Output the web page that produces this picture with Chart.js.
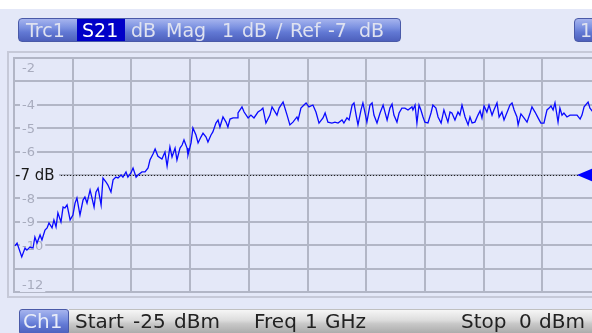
<!DOCTYPE html>
<html>
<head>
<meta charset="utf-8">
<script src="https://cdn.jsdelivr.net/npm/chart.js@4"></script>
<style>
  html, body { margin: 0; padding: 0; width: 592px; height: 333px; overflow: hidden; background: #e4e8f8; }
  #wrap { position: absolute; left: 0; top: 0; width: 610px; height: 333px; }
  canvas { position: absolute; left: 0; top: 0; }
  .bar { position: absolute; box-sizing: border-box; }
  .blue { background: linear-gradient(#a6b4ee, #7a90e0 40%, #6279d4 60%, #4d60bc); border: 1px solid #4a5aa8; border-radius: 4px; }
  .silver { background: linear-gradient(#f6f6f6, #dcdcdc 45%, #c8c8c8 60%, #acacac); border-top: 1px solid #c0c0c0; }
  .w { position: absolute; font-family: "DejaVu Sans", sans-serif; white-space: nowrap; }
  .hd { top: 19px; height: 22px; line-height: 22px; font-size: 19px; color: #dfe2f0; }
  .ft { top: 309px; height: 24px; line-height: 24px; font-size: 20px; color: #222222; }
</style>
</head>
<body>
<div id="wrap">
  <canvas id="vna" width="610" height="333"></canvas>

  <div class="bar blue" style="left:18px;top:18px;width:383px;height:24px;"></div>
  <div class="bar" style="left:77px;top:19px;width:48px;height:22px;background:#0000c8;"></div>
  <span class="w hd" style="left:26px;">Trc1</span>
  <span class="w hd" style="left:82px;color:#ffffff;">S21</span>
  <span class="w hd" style="left:131px;">dB</span>
  <span class="w hd" style="left:166px;">Mag</span>
  <span class="w hd" style="left:222px;">1</span>
  <span class="w hd" style="left:242px;">dB</span>
  <span class="w hd" style="left:276px;">/</span>
  <span class="w hd" style="left:290px;">Ref</span>
  <span class="w hd" style="left:328px;">-7</span>
  <span class="w hd" style="left:359px;">dB</span>

  <div class="bar blue" style="left:574px;top:18px;width:40px;height:24px;"></div>
  <span class="w hd" style="left:580px;">1</span>

  <div class="bar silver" style="left:69px;top:309px;width:541px;height:24px;"></div>
  <div class="bar blue" style="left:19px;top:309px;width:50px;height:26px;border-radius:3px;"></div>
  <span class="w ft" style="left:23px;color:#e8ecf8;">Ch1</span>
  <span class="w ft" style="left:75px;">Start</span>
  <span class="w ft" style="left:133px;">-25</span>
  <span class="w ft" style="left:174px;">dBm</span>
  <span class="w ft" style="left:254px;">Freq</span>
  <span class="w ft" style="left:305px;">1</span>
  <span class="w ft" style="left:325px;">GHz</span>
  <span class="w ft" style="left:461px;">Stop</span>
  <span class="w ft" style="left:519px;">0</span>
  <span class="w ft" style="left:539px;">dBm</span>
</div>

<script>
// power sweep, -25 dBm .. 0 dBm at 1 GHz
const sweepStart = -25;
const sweepStop = 0;

// S21 trace: stimulus power (dBm) and magnitude (dB)
const power = [
  -24.96, -24.87, -24.67, -24.53, -24.45, -24.32, -24.19, -24.11, -24.02, -23.89,
  -23.81, -23.68, -23.59, -23.51, -23.38, -23.30, -23.21, -23.13, -23.00, -22.91,
  -22.83, -22.74, -22.61, -22.49, -22.40, -22.32, -22.19, -22.06, -21.98, -21.89,
  -21.76, -21.68, -21.59, -21.51, -21.42, -21.29, -21.21, -21.08, -21.00, -20.87,
  -20.78, -20.66, -20.57, -20.44, -20.36, -20.23, -20.15, -20.02, -19.93, -19.80,
  -19.72, -19.55, -19.42, -19.29, -19.21, -19.08, -18.99, -18.87, -18.70, -18.57,
  -18.48, -18.36, -18.27, -18.14, -18.06, -17.93, -17.84, -17.76, -17.63, -17.59,
  -17.46, -17.38, -17.25, -17.16, -17.04, -16.95, -16.82, -16.74, -16.61, -16.53,
  -16.40, -16.31, -16.23, -16.10, -15.97, -15.89, -15.80, -15.67, -15.50, -15.46,
  -15.29, -15.20, -15.03, -14.91, -14.78, -14.61, -14.48, -14.40, -14.27, -14.10,
  -14.01, -13.80, -13.71, -13.54, -13.37, -13.25, -13.12, -12.95, -12.90, -12.78,
  -12.65, -12.56, -12.44, -12.27, -12.14, -12.01, -11.84, -11.75, -11.63, -11.46,
  -11.33, -11.20, -11.03, -10.95, -10.82, -10.73, -10.60, -10.52, -10.43, -10.35,
  -10.22, -10.14, -10.05, -9.97, -9.84, -9.75, -9.67, -9.54, -9.41, -9.28,
  -9.20, -9.11, -8.99, -8.90, -8.82, -8.69, -8.60, -8.48, -8.35, -8.22,
  -8.05, -8.01, -7.92, -7.84, -7.75, -7.67, -7.58, -7.50, -7.37, -7.24,
  -7.16, -7.03, -6.94, -6.81, -6.69, -6.52, -6.43, -6.35, -6.22, -6.09,
  -6.01, -5.92, -5.79, -5.66, -5.58, -5.49, -5.37, -5.24, -5.15, -5.07,
  -4.98, -4.86, -4.77, -4.64, -4.56, -4.43, -4.34, -4.22, -4.13, -3.96,
  -3.88, -3.79, -3.70, -3.58, -3.53, -3.41, -3.28, -3.15, -3.02, -2.94,
  -2.81, -2.68, -2.56, -2.43, -2.30, -2.21, -2.13, -2.04, -1.96, -1.83,
  -1.75, -1.66, -1.58, -1.45, -1.32, -1.19, -1.02, -0.89, -0.81, -0.72,
  -0.55, -0.47, -0.34, -0.21, 0.00
];
const magnitude = [
  -10.03, -9.91, -10.50, -10.12, -10.21, -10.08, -10.12, -9.65, -9.91, -9.56,
  -9.78, -9.35, -9.26, -9.05, -9.26, -8.92, -9.22, -8.62, -9.01, -8.37,
  -8.41, -8.28, -8.92, -8.71, -8.20, -7.98, -8.71, -8.07, -7.94, -8.20,
  -7.64, -7.98, -8.37, -7.73, -7.56, -8.28, -7.13, -7.30, -7.43, -7.73,
  -7.21, -7.09, -7.13, -7.00, -7.09, -6.87, -7.09, -6.91, -6.70, -7.09,
  -7.00, -6.87, -6.87, -6.70, -6.36, -6.10, -5.89, -6.20, -6.32, -6.02,
  -6.62, -5.80, -6.23, -5.85, -6.36, -5.85, -5.72, -5.50, -5.85, -6.15,
  -5.63, -4.99, -5.29, -5.63, -5.38, -5.21, -5.38, -5.59, -5.29, -5.16,
  -4.78, -4.65, -4.95, -4.52, -4.74, -4.95, -4.61, -4.56, -4.56, -4.35,
  -4.09, -4.31, -4.56, -4.44, -4.56, -4.31, -4.22, -4.14, -4.78, -4.44,
  -4.09, -4.44, -4.14, -3.88, -4.44, -4.86, -4.74, -4.52, -4.65, -4.14,
  -4.01, -3.92, -4.09, -4.01, -4.31, -4.78, -4.56, -4.35, -4.74, -4.78,
  -4.74, -4.78, -4.65, -4.78, -4.56, -4.65, -4.01, -3.92, -4.44, -4.86,
  -4.22, -3.92, -4.35, -4.74, -4.01, -3.92, -4.44, -4.78, -4.35, -4.01,
  -4.31, -4.65, -4.14, -3.97, -4.44, -4.74, -4.35, -4.14, -4.14, -4.22,
  -4.09, -4.22, -4.01, -4.78, -4.01, -4.22, -4.52, -4.74, -4.78, -4.35,
  -4.01, -4.14, -4.52, -4.78, -4.22, -4.74, -4.31, -4.35, -4.65, -4.31,
  -4.44, -4.01, -4.52, -4.86, -4.52, -4.78, -4.74, -4.44, -4.26, -4.56,
  -4.05, -4.31, -4.01, -4.44, -4.22, -3.92, -4.52, -4.31, -4.65, -4.22,
  -4.01, -3.92, -4.22, -4.52, -4.86, -4.39, -4.56, -4.74, -4.35, -4.09,
  -4.31, -4.56, -4.78, -4.78, -4.22, -4.14, -4.05, -4.22, -3.92, -4.74,
  -4.14, -4.44, -4.35, -4.52, -4.44, -4.44, -4.44, -4.61, -4.44, -4.09,
  -3.88, -4.14, -4.31, -4.20, -4.40
];

// display scale: 1 dB/div, reference -7 dB
const magTop = -2;
const magBottom = -12;
const refLevel = -7;
const yTickLabels = [-2, -4, -5, -6, -8, -9, -10, -12];

const bg = '#e4e8f8';
const gridColor = '#b2b6c6';

const points = power.map(function(p, i) { return { x: p, y: magnitude[i] }; });

// background, diagram frame, y labels and reference line
const vnaDecor = {
  id: 'vnaDecor',
  beforeDraw: function(chart) {
    const ctx = chart.ctx;
    ctx.save();
    ctx.fillStyle = bg;
    ctx.fillRect(0, 0, chart.width, chart.height);
    ctx.fillStyle = '#ffffff';
    ctx.fillRect(0, 0, chart.width, 9);
    // outer diagram frame
    ctx.strokeStyle = '#c6c9d8';
    ctx.lineWidth = 2;
    ctx.beginPath();
    ctx.moveTo(chart.width, 52);
    ctx.lineTo(8, 52);
    ctx.lineTo(8, 297);
    ctx.lineTo(chart.width, 297);
    ctx.stroke();
    ctx.restore();
  },
  beforeDatasetsDraw: function(chart) {
    const ctx = chart.ctx;
    const y = chart.scales.y;
    const area = chart.chartArea;
    ctx.save();
    ctx.font = '13px "DejaVu Sans"';
    ctx.textBaseline = 'middle';
    yTickLabels.forEach(function(v) {
      let py = y.getPixelForValue(v);
      py = Math.min(Math.max(py, area.top + 10), area.bottom - 7);
      const label = String(v);
      const w = ctx.measureText(label).width;
      ctx.fillStyle = bg;
      ctx.fillRect(20, py - 7, w + 4, 14);
      ctx.fillStyle = '#a8acbe';
      ctx.fillText(label, 22, py + 1);
    });

    // reference level
    const ry = Math.round(y.getPixelForValue(refLevel)) + 0.5;
    ctx.font = '15px "DejaVu Sans"';
    ctx.fillStyle = bg;
    ctx.fillRect(area.left + 1, ry - 9, 44, 18);
    ctx.fillStyle = '#1a1a1a';
    ctx.fillText(refLevel + ' dB', area.left + 1, ry + 1);
    ctx.strokeStyle = '#202020';
    ctx.lineWidth = 1;
    ctx.setLineDash([1, 2]);
    ctx.beginPath();
    ctx.moveTo(area.left + 47, ry);
    ctx.lineTo(578, ry);
    ctx.stroke();
    ctx.restore();
  },
  afterDraw: function(chart) {
    const ctx = chart.ctx;
    const ry = chart.scales.y.getPixelForValue(refLevel);
    ctx.save();
    ctx.fillStyle = '#0000ff';
    ctx.beginPath();
    ctx.moveTo(577, ry);
    ctx.lineTo(596, ry - 8);
    ctx.lineTo(596, ry + 8);
    ctx.closePath();
    ctx.fill();
    ctx.restore();
  }
};

const config = {
  type: 'line',
  data: {
    datasets: [{
      label: 'S21',
      data: points,
      borderColor: '#0a0aff',
      borderWidth: 1.3,
      pointRadius: 0,
      tension: 0,
      fill: false
    }]
  },
  options: {
    responsive: false,
    animation: false,
    layout: { padding: { left: 14, top: 58, right: 9, bottom: 41 } },
    plugins: { legend: { display: false }, tooltip: { enabled: false } },
    scales: {
      x: {
        type: 'linear',
        min: sweepStart,
        max: sweepStop,
        ticks: { display: false, stepSize: 2.5 },
        grid: { color: gridColor, lineWidth: 2, drawTicks: false },
        border: { color: gridColor, width: 2 }
      },
      y: {
        min: magBottom,
        max: magTop,
        ticks: { display: false, stepSize: 1 },
        grid: { color: gridColor, lineWidth: 2, drawTicks: false },
        border: { color: gridColor, width: 2 }
      }
    }
  },
  plugins: [vnaDecor]
};

const vnaChart = new Chart(document.getElementById('vna'), config);
</script>
</body>
</html>
